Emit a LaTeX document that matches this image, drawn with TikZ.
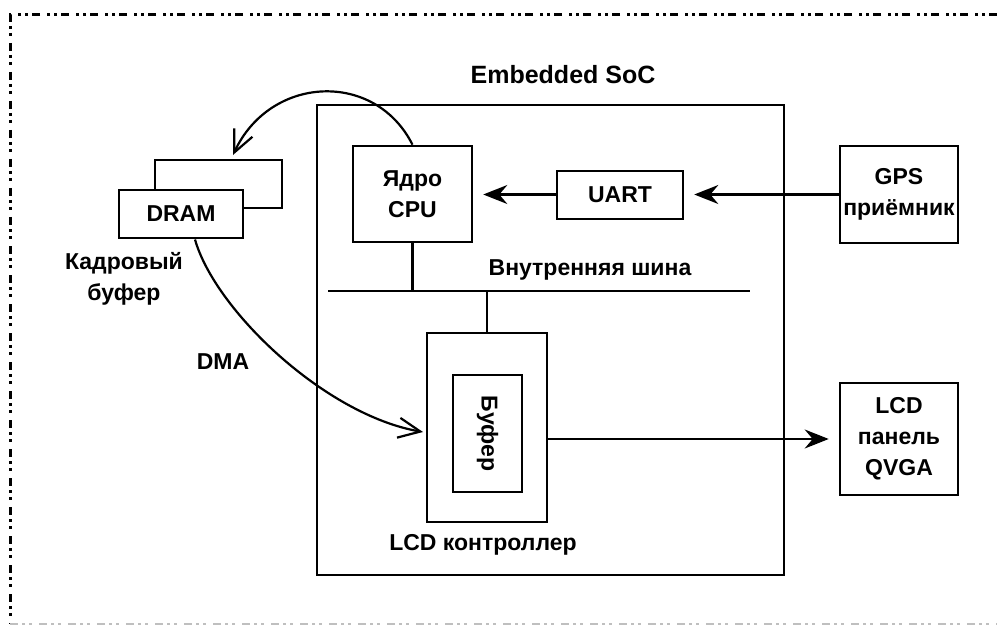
\documentclass[tikz,border=0pt]{standalone}
\usepackage{fontspec}
\setmainfont{Liberation Sans}
\usetikzlibrary{arrows.meta}

\newcommand\lblfont{\fontsize{23}{31}\selectfont\bfseries}
\newcommand\titlefont{\fontsize{25}{30}\selectfont\bfseries}

\begin{document}
\begin{tikzpicture}[x=1pt,y=-1pt,
  box/.style={draw, rectangle, line width=2.6pt, inner sep=0pt, align=center,
              font=\lblfont, fill=white},
  lbl/.style={font=\lblfont, align=center, inner sep=0pt},
  wire/.style={line width=2.6pt},
  curve/.style={line width=2.2pt},
  solidtip/.style={-{Stealth[length=24pt,width=19pt,inset=8pt]}},
  opentip/.style={-{Straight Barb[length=22pt,width=20pt]}},
  frame/.style={line width=3pt,
                dash pattern=on 8pt off 4pt on 3pt off 4pt on 3pt off 7pt}]

\useasboundingbox (0,0) rectangle (997,626);

% outer dash-dot frame
\draw[frame] (997,15) -- (10,15) -- (10,624);
\draw[frame, gray!50, line width=2.5pt] (10,624) -- (997,624);

% system-on-chip outline and title
\node[box, fill=none, minimum width=467pt, minimum height=470pt] (soc) at (550.5,340) {};
\node[font=\titlefont, inner sep=0pt] (title) at (563,75) {Embedded SoC};

% blocks
\node[box, minimum width=119pt, minimum height=96pt] (cpu) at (412.5,194) {Ядро\\CPU};
\node[box, minimum width=126pt, minimum height=48pt] (uart) at (620,195) {UART};
\node[box, minimum width=118pt, minimum height=97pt] (gps) at (899,194.5) {GPS\\приёмник};

\node[box, minimum width=127pt, minimum height=48pt] (dramback) at (218.5,184) {};
\node[box, minimum width=124pt, minimum height=48pt] (dram) at (181,214) {DRAM};

\node[box, minimum width=120pt, minimum height=189pt] (lcdc) at (487,427.5) {};
\node[box, minimum width=69pt, minimum height=117pt] (buf) at (487.5,433.5) {};
\node[lbl, rotate=-90] (buftext) at (buf) {Буфер};

\node[box, minimum width=118pt, minimum height=112pt] (panel) at (899,439) {LCD\\панель\\QVGA};

% free labels
\node[lbl] (fb) at (124,279) {Кадровый\\буфер};
\node[lbl] (dma) at (223,362) {DMA};
\node[lbl] (buslbl) at (590,270) {Внутренняя шина};
\node[lbl] (lcdclbl) at (483,545) {LCD контроллер};

% internal bus
\coordinate (busL) at (328,291);
\coordinate (busR) at (750,291);
\draw[wire] (busL) -- (busR);
\draw[wire] (cpu.south) -- (cpu.south |- busL);
\draw[wire] (lcdc.north) -- (lcdc.north |- busL);

% data paths
\draw[wire, solidtip, shorten >=10pt] (gps.west) -- (uart.east |- gps.west);
\draw[wire, solidtip, shorten >=10pt] (uart.west |- gps.west) -- (cpu.east |- gps.west);
\draw[wire, solidtip, shorten >=10pt] (lcdc.east |- panel.west) -- (panel.west);

% frame buffer traffic
\coordinate (dramin) at (233,155);
\coordinate (dmaout) at (195,239.5);
\coordinate (dmain) at (423,432);
\draw[curve, opentip] (cpu.north) .. controls (375,70) and (270,75) .. (dramin);
\draw[curve, opentip] (dmaout) .. controls (215,310) and (325,415) .. (dmain);

\end{tikzpicture}
\end{document}
